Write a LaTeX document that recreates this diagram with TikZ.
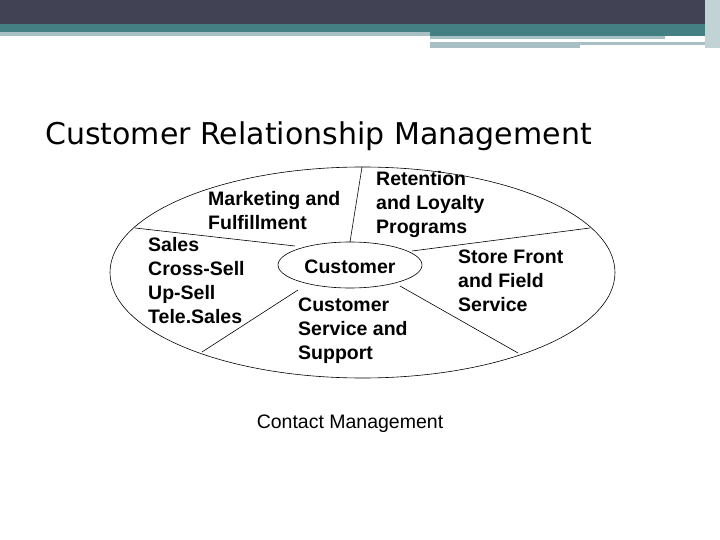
\documentclass[tikz,border=0pt]{standalone}
\usepackage{fontspec}
\setmainfont{Liberation Sans}
\newfontfamily\titlefont{DejaVu Sans}
\definecolor{dark}{HTML}{414354}
\definecolor{teal}{HTML}{447F84}
\definecolor{pale}{HTML}{A8C0C3}
\begin{document}
\begin{tikzpicture}[x=1pt,y=-1pt,
  lbl/.style={font=\fontsize{19.5}{24}\selectfont\bfseries, align=left, inner sep=0pt, anchor=north west},
  line/.style={draw=black, line width=0.6pt}]
\useasboundingbox (0,0) rectangle (720,540);
\fill[white] (0,0) rectangle (720,540);
% header bar
\fill[dark] (0,0) rectangle (720,24);
\fill[teal] (0,24) rectangle (720,32);
\fill[teal] (430,32) rectangle (720,36);
\fill[pale] (0,32) rectangle (430,36);
\fill[pale] (430,36) rectangle (665,39);
\fill[pale] (430,42) rectangle (580,48);
\fill[pale] (580,42) rectangle (715,45);
\fill[pale!70] (705,0) rectangle (720,48);
% title
\node[font=\titlefont\fontsize{30}{34}\selectfont, anchor=base west, inner sep=0pt] (title) at (45,145) {Customer Relationship Management};
% ellipses
\draw[line] (362.5,272.5) ellipse [x radius=252.5, y radius=105.5];
\draw[line] (350,265) ellipse [x radius=72, y radius=23];
\node[font=\fontsize{19.5}{24}\selectfont\bfseries, inner sep=0pt] (cust) at (350,267) {Customer};
% spokes
\coordinate (o1) at (362,167); \coordinate (i1) at (350,242);
\coordinate (o2) at (135,228); \coordinate (i2) at (295,246);
\coordinate (o3) at (590,228); \coordinate (i3) at (412,251);
\coordinate (o4) at (518,353); \coordinate (i4) at (400,286);
\coordinate (o5) at (202,352); \coordinate (i5) at (298,290);
\foreach \k in {1,...,5} \draw[line] (o\k) -- (i\k);
% labels
\node[lbl] (mkt) at (208,191) {Marketing and\\Fulfillment};
\node[lbl] (ret) at (376,171) {Retention\\and Loyalty\\Programs};
\node[lbl] (sales) at (148,237) {Sales\\Cross-Sell\\Up-Sell\\Tele.Sales};
\node[lbl] (store) at (458,250) {Store Front\\ and Field\\ Service};
\node[lbl] (css) at (298,298) {Customer\\Service and\\Support};
\node[font=\fontsize{19.5}{24}\selectfont, inner sep=0pt] (contact) at (350,424) {Contact Management};
\end{tikzpicture}
\end{document}
